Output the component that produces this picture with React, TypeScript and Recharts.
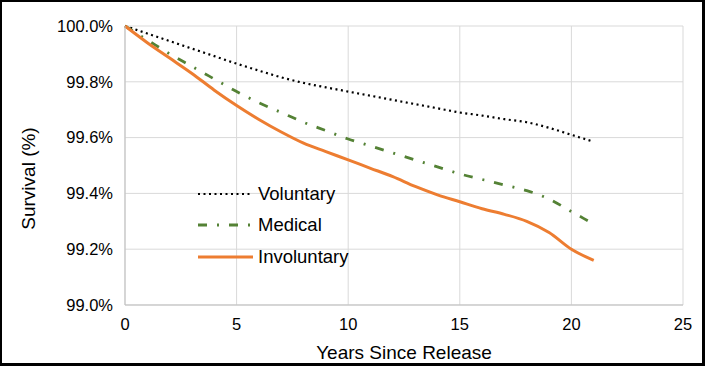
import { LineChart, Line, XAxis, YAxis, CartesianGrid } from "recharts";

// Years since release
const years = [0, 1, 2, 3, 4, 5, 6, 7, 8, 9, 10, 11, 12, 13, 14, 15, 16, 17, 18, 19, 20, 21];

// Survival (%) by release type
const voluntary = [100, 99.973, 99.946, 99.919, 99.892, 99.865, 99.84, 99.816, 99.796, 99.78, 99.765, 99.75, 99.735, 99.72, 99.705, 99.69, 99.679, 99.666, 99.655, 99.635, 99.61, 99.585];
const medical = [100, 99.95, 99.9, 99.855, 99.81, 99.765, 99.725, 99.69, 99.655, 99.625, 99.595, 99.57, 99.545, 99.52, 99.495, 99.47, 99.45, 99.43, 99.41, 99.38, 99.335, 99.29];
const involuntary = [100, 99.94, 99.885, 99.83, 99.77, 99.715, 99.665, 99.62, 99.58, 99.55, 99.52, 99.49, 99.46, 99.425, 99.395, 99.37, 99.345, 99.325, 99.3, 99.26, 99.2, 99.16];

const xTicks = [0, 5, 10, 15, 20, 25];
const yTicks = [99.0, 99.2, 99.4, 99.6, 99.8, 100.0];

const series = [
  { key: "voluntary", name: "Voluntary", color: "#000000", width: 2.2, dash: "2 3.5" },
  { key: "medical", name: "Medical", color: "#548235", width: 2.8, dash: "9 10 2 10" },
  { key: "involuntary", name: "Involuntary", color: "#ED7D31", width: 3, dash: undefined },
];

const data = years.map((y, i) => ({
  year: y,
  voluntary: voluntary[i],
  medical: medical[i],
  involuntary: involuntary[i],
}));

const FONT = "'Liberation Sans', Arial, sans-serif";

// legend sits inside the plot, Excel style
function LegendBox() {
  return (
    <div style={{ position: "absolute", left: 195, top: 176, fontFamily: FONT, fontSize: 18.5, color: "#000" }}>
      {series.map(s => (
        <div key={s.key} style={{ display: "flex", alignItems: "center", height: 31.5 }}>
          <svg width={56} height={10} style={{ marginRight: 5 }}>
            <line x1={1} y1={5} x2={56} y2={5} stroke={s.color} strokeWidth={s.width} strokeDasharray={s.dash} />
          </svg>
          <span>{s.name}</span>
        </div>
      ))}
    </div>
  );
}

// rotated y title, sits a bit below the plot middle like the original
function YTitle({ viewBox }: any) {
  const cx = viewBox.x + 26.5;
  const cy = viewBox.y + viewBox.height / 2 + 13;
  return (
    <text x={cx} y={cy} transform={`rotate(-90, ${cx}, ${cy})`} textAnchor="middle" dominantBaseline="central"
      style={{ fill: "#000", fontSize: 19, fontFamily: FONT }}>
      Survival (%)
    </text>
  );
}

export default function App() {
  return (
    <div
      style={{
        position: "fixed",
        left: 0,
        top: 0,
        width: 705,
        height: 366,
        boxSizing: "border-box",
        border: "2px solid #000",
        borderRightWidth: 3,
        borderBottomWidth: 3,
        background: "#fff",
      }}
    >
      <LineChart width={700} height={361} data={data} margin={{ top: 24, right: 19, left: 0, bottom: 0 }}>
        <CartesianGrid stroke="#d9d9d9" />
        <XAxis
          dataKey="year"
          type="number"
          domain={[0, 25]}
          ticks={xTicks}
          height={58}
          stroke="#bfbfbf"
          tickLine={false}
          tickSize={0}
          tickMargin={13}
          tick={{ fill: "#000", fontSize: 16.5, fontFamily: FONT }}
          label={{ value: "Years Since Release", position: "insideBottom", offset: 4, style: { fill: "#000", fontSize: 19, fontFamily: FONT } }}
        />
        <YAxis
          type="number"
          domain={[99, 100]}
          ticks={yTicks}
          width={123}
          stroke="#bfbfbf"
          tickLine={false}
          tickSize={0}
          tickMargin={12}
          tickFormatter={v => `${v.toFixed(1)}%`}
          tick={{ fill: "#000", fontSize: 16.5, fontFamily: FONT }}
          label={<YTitle />}
        />
        {series.map(s => (
          <Line
            key={s.key}
            dataKey={s.key}
            name={s.name}
            type="monotone"
            stroke={s.color}
            strokeWidth={s.width}
            strokeDasharray={s.dash}
            dot={false}
            activeDot={false}
            isAnimationActive={false}
          />
        ))}
      </LineChart>
      <LegendBox />
    </div>
  );
}
